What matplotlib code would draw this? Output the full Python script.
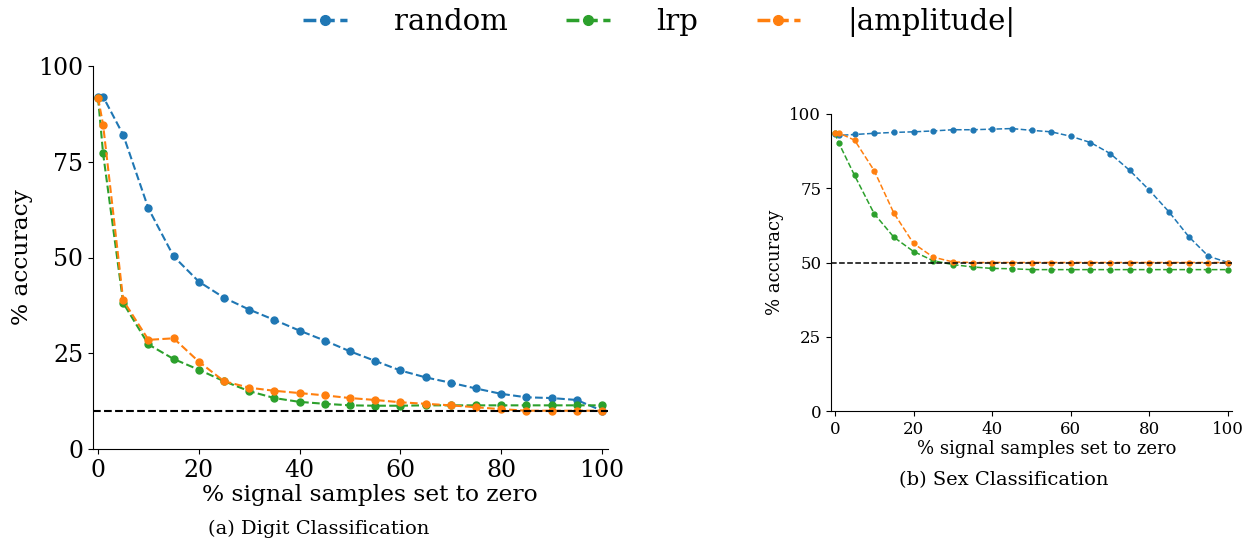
import matplotlib
matplotlib.use("Agg")
from matplotlib import pyplot as plt
from matplotlib.lines import Line2D

plt.rcParams["font.family"] = ["DejaVu Serif"]

x = [0, 1, 5, 10, 15, 20, 25, 30, 35, 40, 45, 50, 55, 60, 65, 70, 75, 80, 85, 90, 95, 100]

# (a) digit classification
digit_random = [92.0, 92.0, 82.0, 62.8, 50.3, 43.7, 39.5, 36.4, 33.7, 30.9, 28.3,
                25.5, 23.0, 20.5, 18.7, 17.3, 15.8, 14.4, 13.5, 13.3, 12.8, 10.0]
digit_lrp = [91.7, 77.2, 38.1, 27.3, 23.5, 20.7, 17.7, 15.1, 13.3, 12.3, 11.8,
             11.4, 11.3, 11.3, 11.4, 11.4, 11.4, 11.4, 11.4, 11.4, 11.4, 11.4]
digit_amp = [91.7, 84.7, 38.8, 28.5, 28.9, 22.8, 17.7, 16.0, 15.2, 14.6, 14.0,
             13.3, 12.8, 12.2, 11.8, 11.4, 10.9, 10.4, 10.0, 10.0, 10.0, 10.0]
digit_chance = 10

# (b) sex classification
sex_random = [93.3, 92.8, 93.1, 93.5, 93.8, 94.0, 94.3, 94.7, 94.7, 94.9, 95.1,
              94.5, 94.0, 92.5, 90.4, 86.7, 81.0, 74.3, 67.0, 58.7, 52.1, 50.0]
sex_lrp = [93.5, 90.2, 79.3, 66.4, 58.5, 53.7, 50.6, 49.3, 48.5, 48.0, 47.9,
           47.6, 47.6, 47.6, 47.6, 47.6, 47.6, 47.6, 47.6, 47.6, 47.6, 47.6]
sex_amp = [93.5, 93.6, 91.2, 80.9, 66.6, 56.4, 51.8, 50.2, 50.0, 50.0, 50.0,
           50.0, 50.0, 50.0, 50.0, 50.0, 50.0, 50.0, 50.0, 50.0, 50.0, 50.0]
sex_chance = 50

labels = ["random", "lrp", "|amplitude|"]
colors = ["#1f77b4", "#2ca02c", "#ff7f0e"]

fig = plt.figure(figsize=(12.51, 5.43), dpi=100)
ax1 = fig.add_axes([93 / 1251, 1 - 449 / 543, 515 / 1251, 383 / 543])
ax2 = fig.add_axes([831 / 1251, 1 - 411 / 543, 401 / 1251, 297 / 543])


def draw(ax, series, chance, lw, ms, fs, lfs, xmax):
    for ys, c in zip(series, colors):
        ax.plot(x, ys, "--", marker="o", color=c, lw=lw, ms=ms)
    ax.axhline(chance, color="black", ls="--", lw=lw)
    ax.set_xlim(-1, xmax)
    ax.set_ylim(0, 100)
    ax.set_xticks([0, 20, 40, 60, 80, 100])
    ax.set_yticks([0, 25, 50, 75, 100])
    ax.tick_params(labelsize=fs)
    ax.set_xlabel("% signal samples set to zero", fontsize=lfs, labelpad=2, x=0.537)
    ax.set_ylabel("% accuracy", fontsize=lfs)
    ax.spines["top"].set_visible(False)
    ax.spines["right"].set_visible(False)


draw(ax1, [digit_random, digit_lrp, digit_amp], digit_chance, 1.5, 5, 17, 16.8, 101.2)
draw(ax2, [sex_random, sex_lrp, sex_amp], sex_chance, 1.1, 3.5, 12, 13, 101)

fig.text(319 / 1251, 1 - 529 / 543, "(a) Digit Classification", ha="center", va="center", fontsize=14)
fig.text(1004 / 1251, 1 - 480 / 543, "(b) Sex Classification", ha="center", va="center", fontsize=14)

handles = [Line2D([], [], ls="--", marker="o", color=c, lw=2.5, ms=7) for c in colors]
fig.legend(handles, labels, loc="upper center", bbox_to_anchor=(0.527, 1.035), ncol=3,
           frameon=False, fontsize=21, handlelength=1.5, handletextpad=1.6,
           columnspacing=2.0)

plt.savefig("out.png", dpi=100)
